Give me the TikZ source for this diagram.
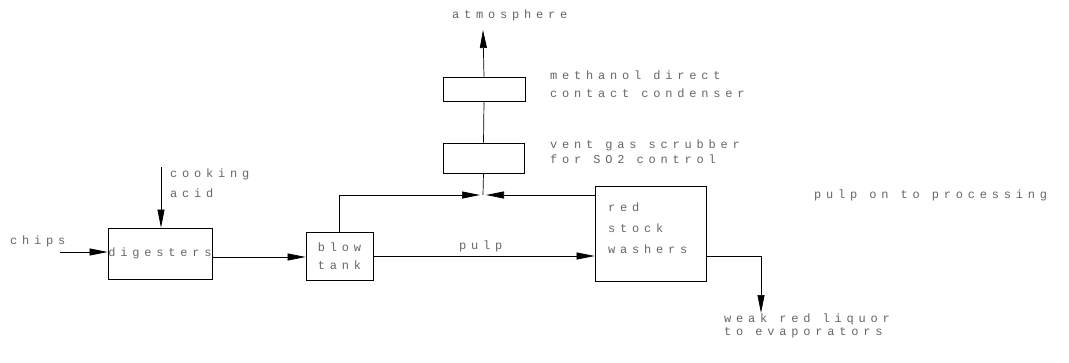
\documentclass[tikz,border=0pt]{standalone}
\usepackage{fontspec}
\setmainfont{Liberation Mono}[LetterSpace=40]
\usetikzlibrary{arrows.meta,calc}
\begin{document}
\begin{tikzpicture}[x=1pt,y=-1pt,
  box/.style={draw,line width=0.8pt,inner sep=0pt,text=black!60,align=left},
  lbl/.style={text=black!60,inner sep=0pt,anchor=west,align=left},
  arr/.style={-{Triangle[length=18pt,width=7pt]},line width=0.7pt},
  ln/.style={line width=0.7pt}]
\useasboundingbox (0,0) rectangle (1069,362);
% boxes
\node[box,minimum width=104pt,minimum height=51pt,font={\fontsize{12}{18}\selectfont}] (dig) at (160,253.5) {digesters};
\node[box,minimum width=67pt,minimum height=48pt,font={\fontsize{12}{18}\selectfont}] (blow) at (339.5,256) {blow\\tank};
\node[box,minimum width=111pt,minimum height=95pt] (wash) at (650.5,233.5) {};
\node[lbl,font={\fontsize{12}{21}\selectfont}] (washtxt) at (608,228) {red\\stock\\washers};
\node[box,minimum width=82pt,minimum height=24pt] (cond) at (484,89) {};
\node[box,minimum width=81pt,minimum height=30pt] (scrub) at (483.5,158) {};
% labels
\node[lbl,font={\fontsize{12}{18}\selectfont}] (chips) at (10,241) {chips};
\node[lbl,font={\fontsize{12}{20}\selectfont}] (acid) at (170,183) {cooking\\acid};
\node[lbl,font={\fontsize{12}{18}\selectfont}] (pulp) at (459,246) {pulp};
\node[lbl,font={\fontsize{12}{18}\selectfont}] (atm) at (452,15) {atmosphere};
\node[lbl,font={\fontsize{12}{18}\selectfont}] (condtxt) at (550,84) {methanol direct\\contact condenser};
\node[lbl,font={\fontsize{12}{15}\selectfont}] (scrubtxt) at (550,152) {vent gas scrubber\\for SO2 control};
\node[lbl,font={\fontsize{12}{18}\selectfont}] (proc) at (814,195) {pulp on to processing};
\node[lbl,font={\fontsize{12}{13}\selectfont}] (liq) at (724,326) {weak red liquor\\to evaporators};
% coordinates
\coordinate (chipsend) at (60,252);
\coordinate (acidtop) at (161,167);
\coordinate (junc) at (483,195);
\coordinate (jl) at (480,195);
\coordinate (jr) at (486,195);
\coordinate (atmtip) at (483,30);
\coordinate (liqtip) at (761,313);
% connectors
\draw[arr] (chipsend) -- (chipsend -| dig.west);
\draw[arr] (acidtop) -- (acidtop |- dig.north);
\draw[arr] ([yshift=-3.5pt]dig.east) -- ([yshift=-3.5pt]dig.east -| blow.west);
\draw[arr] (blow.east) -- (blow.east -| wash.west);
\draw[arr] (blow.north) |- (jl);
\draw[arr] (junc -| wash.west) -- (jr);
\draw[ln] (junc) -- (scrub.south);
\draw[ln] (scrub.north) -- (cond.south);
\draw[arr] (cond.north) -- (atmtip);
\draw[arr] ([yshift=-22.5pt]wash.east) -| (liqtip);
\end{tikzpicture}
\end{document}
